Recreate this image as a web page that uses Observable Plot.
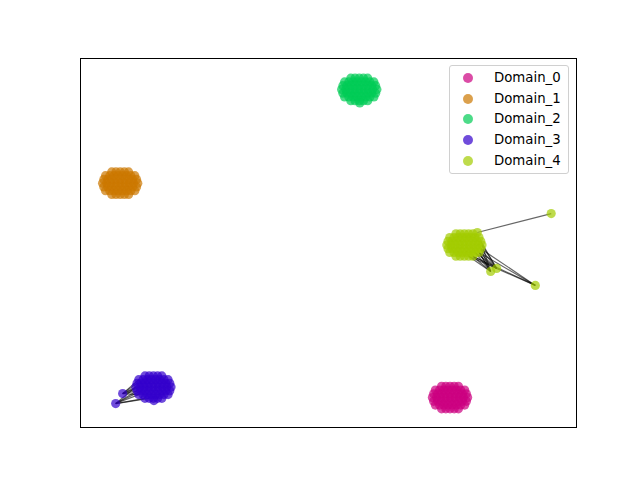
<!DOCTYPE html>
<html><head><meta charset="utf-8">
<script src="https://cdn.jsdelivr.net/npm/d3@7"></script>
<script src="https://cdn.jsdelivr.net/npm/@observablehq/plot@0.6"></script>
<style>
body{margin:0;background:#fff;font-family:"DejaVu Sans",sans-serif;}
#wrap{position:relative;width:640px;height:480px;}
#wrap svg{position:absolute;left:0;top:0;}
#legend{position:absolute;left:449px;top:65px;width:118px;height:107px;border:1px solid #d0d0d0;border-radius:3px;background:rgba(255,255,255,0.8);box-sizing:content-box;}
.row{position:absolute;left:0;height:20px;font-size:13.3px;color:#000;line-height:20px;}
.mk{position:absolute;left:13px;top:5px;width:10px;height:10px;border-radius:50%;opacity:0.7;}
.lb{position:absolute;left:44px;top:0;white-space:nowrap;}
</style></head>
<body><div id="wrap"><div id="legend"></div></div>
<script>
const domains = ["Domain_0","Domain_1","Domain_2","Domain_3","Domain_4"];
const colors = ["#cc0080","#cc7700","#00cc55","#3300cc","#a3cc00"];

const pts0 = [
 [22.8,-28.75],[23.65,-28.75],[24.5,-28.75],[25.35,-28.75],[26.2,-28.75],
 [21.55,-29.5],[22.4,-29.5],[23.25,-29.5],[24.1,-29.5],[24.95,-29.5],[25.8,-29.5],[26.65,-29.5],[27.45,-29.5],
 [21.2,-30.25],[22.0,-30.25],[22.8,-30.25],[23.65,-30.25],[24.5,-30.25],[25.35,-30.25],[26.2,-30.25],[27.0,-30.25],[27.8,-30.25],
 [20.95,-31],[21.8,-31],[22.7,-31],[23.6,-31],[24.5,-31],[25.4,-31],[26.3,-31],[27.2,-31],[28.05,-31],
 [21.2,-31.75],[22.0,-31.75],[22.8,-31.75],[23.65,-31.75],[24.5,-31.75],[25.35,-31.75],[26.2,-31.75],[27.0,-31.75],[27.8,-31.75],
 [21.55,-32.5],[22.4,-32.5],[23.25,-32.5],[24.1,-32.5],[24.95,-32.5],[25.8,-32.5],[26.65,-32.5],[27.45,-32.5],
 [22.8,-33.25],[23.65,-33.25],[24.5,-33.25],[25.35,-33.25],[26.2,-33.25]];
const pts1 = [
 [-43.7,14.25],[-42.85,14.25],[-42,14.25],[-41.15,14.25],[-40.3,14.25],
 [-44.95,13.5],[-44.1,13.5],[-43.25,13.5],[-42.4,13.5],[-41.55,13.5],[-40.7,13.5],[-39.85,13.5],[-39.05,13.5],
 [-45.3,12.75],[-44.5,12.75],[-43.7,12.75],[-42.85,12.75],[-42,12.75],[-41.15,12.75],[-40.3,12.75],[-39.5,12.75],[-38.7,12.75],
 [-45.55,12],[-44.7,12],[-43.8,12],[-42.9,12],[-42,12],[-41.1,12],[-40.2,12],[-39.3,12],[-38.45,12],
 [-45.3,11.25],[-44.5,11.25],[-43.7,11.25],[-42.85,11.25],[-42,11.25],[-41.15,11.25],[-40.3,11.25],[-39.5,11.25],[-38.7,11.25],
 [-44.95,10.5],[-44.1,10.5],[-43.25,10.5],[-42.4,10.5],[-41.55,10.5],[-40.7,10.5],[-39.85,10.5],[-39.05,10.5],
 [-43.7,9.75],[-42.85,9.75],[-42,9.75],[-41.15,9.75],[-40.3,9.75]];
const pts2 = [
 [4.5,33.05],[5.35,33.05],[6.2,33.05],[7.05,33.05],[7.9,33.05],
 [3.25,32.3],[4.1,32.3],[4.95,32.3],[5.8,32.3],[6.65,32.3],[7.5,32.3],[8.35,32.3],[9.15,32.3],
 [2.9,31.55],[3.7,31.55],[4.5,31.55],[5.35,31.55],[6.2,31.55],[7.05,31.55],[7.9,31.55],[8.7,31.55],[9.5,31.55],
 [2.65,30.8],[3.5,30.8],[4.4,30.8],[5.3,30.8],[6.2,30.8],[7.1,30.8],[8.0,30.8],[8.9,30.8],[9.75,30.8],
 [2.9,30.05],[3.7,30.05],[4.5,30.05],[5.35,30.05],[6.2,30.05],[7.05,30.05],[7.9,30.05],[8.7,30.05],[9.5,30.05],
 [3.25,29.3],[4.1,29.3],[4.95,29.3],[5.8,29.3],[6.65,29.3],[7.5,29.3],[8.35,29.3],[9.15,29.3],
 [4.5,28.55],[5.35,28.55],[6.2,28.55],[7.05,28.55],[7.9,28.55],[6.3,28.1]];
const pts3 = [
 [-42.9,-32.2],[-41.5,-30.2],
 [-37.0,-26.65],[-36.15,-26.65],[-35.3,-26.65],[-34.45,-26.65],[-33.6,-26.65],
 [-38.25,-27.4],[-37.4,-27.4],[-36.55,-27.4],[-35.7,-27.4],[-34.85,-27.4],[-34.0,-27.4],[-33.15,-27.4],[-32.35,-27.4],
 [-38.6,-28.15],[-37.8,-28.15],[-37.0,-28.15],[-36.15,-28.15],[-35.3,-28.15],[-34.45,-28.15],[-33.6,-28.15],[-32.8,-28.15],[-32.0,-28.15],
 [-38.85,-28.9],[-38.0,-28.9],[-37.1,-28.9],[-36.2,-28.9],[-35.3,-28.9],[-34.4,-28.9],[-33.5,-28.9],[-32.6,-28.9],[-31.75,-28.9],
 [-38.6,-29.65],[-37.8,-29.65],[-37.0,-29.65],[-36.15,-29.65],[-35.3,-29.65],[-34.45,-29.65],[-33.6,-29.65],[-32.8,-29.65],[-32.0,-29.65],
 [-38.25,-30.4],[-37.4,-30.4],[-36.55,-30.4],[-35.7,-30.4],[-34.85,-30.4],[-34.0,-30.4],[-33.15,-30.4],[-32.35,-30.4],
 [-37.0,-31.15],[-36.15,-31.15],[-35.3,-31.15],[-34.45,-31.15],[-33.6,-31.15],
 [-35.2,-31.6]];
const pts4 = [
 [44.9,5.9],[41.7,-8.5],[32.7,-5.7],[33.9,-5.1],[30.0,2.1],
 [25.7,1.85],[26.55,1.85],[27.4,1.85],[28.25,1.85],[29.1,1.85],
 [24.45,1.1],[25.3,1.1],[26.15,1.1],[27.0,1.1],[27.85,1.1],[28.7,1.1],[29.55,1.1],[30.35,1.1],
 [24.1,0.35],[24.9,0.35],[25.7,0.35],[26.55,0.35],[27.4,0.35],[28.25,0.35],[29.1,0.35],[29.9,0.35],[30.7,0.35],
 [23.85,-0.4],[24.7,-0.4],[25.6,-0.4],[26.5,-0.4],[27.4,-0.4],[28.3,-0.4],[29.2,-0.4],[30.1,-0.4],[30.95,-0.4],
 [24.1,-1.15],[24.9,-1.15],[25.7,-1.15],[26.55,-1.15],[27.4,-1.15],[28.25,-1.15],[29.1,-1.15],[29.9,-1.15],[30.7,-1.15],
 [24.45,-1.9],[25.3,-1.9],[26.15,-1.9],[27.0,-1.9],[27.85,-1.9],[28.7,-1.9],[29.55,-1.9],[30.35,-1.9],
 [25.7,-2.65],[26.55,-2.65],[27.4,-2.65],[28.25,-2.65],[29.1,-2.65]];
const allPts = [pts0, pts1, pts2, pts3, pts4];

// edges: [domain index, from point index, to point index]
const edges = [
 [3,0,24],[3,0,33],[3,0,42],[3,0,50],[3,0,34],[3,0,51],
 [3,1,15],[3,1,24],[3,1,33],[3,1,7],[3,1,42],[3,1,25],
 [4,0,4],
 [4,1,57],[4,1,52],[4,1,44],[4,1,56],
 [4,2,57],[4,2,56],[4,2,52],[4,2,51],[4,2,44],[4,2,43],[4,2,35],
 [4,3,57],[4,3,52],[4,3,44],[4,3,35],[4,3,51],[4,3,26]
];

const points = allPts.flatMap((arr, d) => arr.map(([x, y]) => ({x, y, domain: domains[d]})));
const links = edges.map(([d, a, b]) => ({x1: allPts[d][a][0], y1: allPts[d][a][1], x2: allPts[d][b][0], y2: allPts[d][b][1]}));

const chart = Plot.plot({
  width: 640, height: 480,
  marginLeft: 80, marginRight: 64, marginTop: 58, marginBottom: 53,
  x: {domain: [-50, 50], axis: null},
  y: {domain: [-37, 37], axis: null},
  color: {domain: domains, range: colors},
  marks: [
    Plot.link(links, {x1: "x1", y1: "y1", x2: "x2", y2: "y2", stroke: "black", strokeOpacity: 0.6, strokeWidth: 1.2}),
    Plot.dot(points, {x: "x", y: "y", fill: "domain", fillOpacity: 0.7, r: 4.6}),
    Plot.frame({stroke: "black", strokeWidth: 1})
  ]
});
document.getElementById("wrap").appendChild(chart);

const leg = document.getElementById("legend");
domains.forEach((d, i) => {
  const row = document.createElement("div");
  row.className = "row";
  row.style.top = (2 + i * 20.7) + "px";
  row.style.width = "118px";
  const mk = document.createElement("div");
  mk.className = "mk";
  mk.style.background = colors[i];
  const lb = document.createElement("div");
  lb.className = "lb";
  lb.textContent = d;
  row.appendChild(mk); row.appendChild(lb);
  leg.appendChild(row);
});
</script></body></html>
